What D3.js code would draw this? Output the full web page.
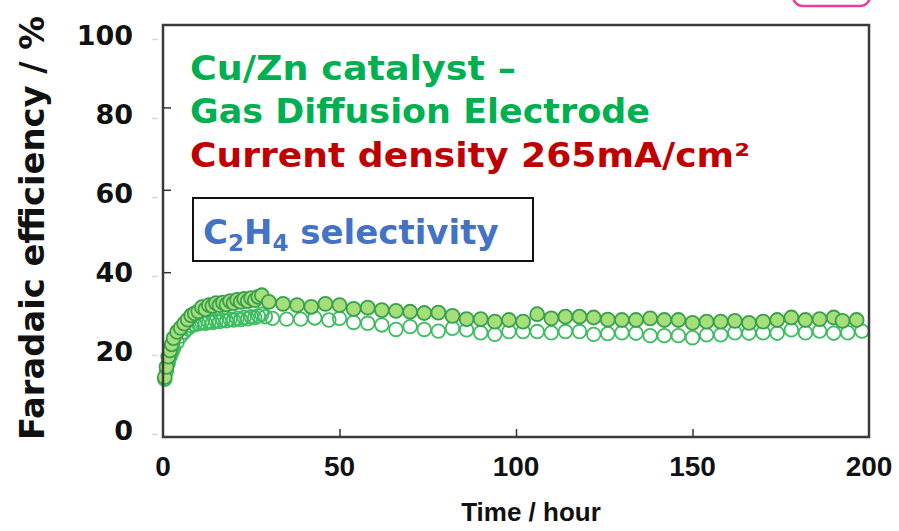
<!DOCTYPE html>
<html>
<head>
<meta charset="utf-8">
<script src="https://cdn.jsdelivr.net/npm/d3@7"></script>
<style>
  body { margin: 0; background: #fff; }
  svg { display: block; }
</style>
</head>
<body>
<div id="container"></div>
<script>
/* data: time (hour) and faradaic efficiency (%) */
var filledTime = [0.5,1,1.5,2,2.5,3,4,5,6,7,8,9,10,11,12,13,14,15,16,17,18,19,20,21,22,23,24,25,26,27,28,
  30,34,38,42,46,50,54,58,62,66,70,74,78,82,86,90,94,98,102,106,110,114,118,122,126,130,134,138,142,146,
  150,154,158,162,166,170,174,178,182,186,190,192.5,196.5]
var filledFE = [14.5,17,19.5,21,22.5,24,25.5,26.5,27.5,28.5,29.5,30,30.5,31.5,31,32,31.8,32.5,32,32.6,32.2,33,32.5,33.3,32.8,33.5,33,33.7,33.2,34,34.4,
  32.8,32.3,32.0,31.6,32.3,32.0,31.1,31.4,30.8,30.6,30.4,30.1,30.2,29.4,28.6,28.6,28.0,28.4,28.0,29.8,28.8,29.2,29.2,29.0,28.5,28.4,28.4,28.8,28.4,28.4,
  27.7,28.0,28.0,28.2,27.7,28.0,28.4,29.0,28.4,28.6,29.0,28.2,28.4]

var openTime = [0.5,1,1.5,2,2.5,3,4,5,6,7,8,9,10,11,12,13,14,15,16,17,18,19,20,21,22,23,24,25,26,27,28,29,
  31,35,39,43,47,50,54,58,62,66,70,74,78,82,86,90,94,98,102,106,110,114,118,122,126,130,134,138,142,146,
  150,154,158,162,166,170,174,178,182,186,190,194,198]
var openFE = [14,16,18,19.5,20.5,21.5,23,24.5,25.5,26.3,27,27.3,27.5,27.8,27.6,28,27.8,28.2,28,28.4,28.2,28.6,28.4,28.8,28.5,29,28.7,29.2,29,29.4,29.8,29.2,
  28.8,28.6,28.6,28.9,28.4,28.8,27.8,27.6,27.2,26.1,26.8,26.1,25.7,26.4,26.0,25.3,24.9,25.6,25.6,25.6,25.3,25.6,25.6,24.9,25.1,25.3,25.2,24.6,24.6,24.6,
  24.1,24.8,24.8,25.3,25.2,25.3,25.2,26.0,25.3,25.7,25.2,25.3,25.7]

var xTicks = [0, 50, 100, 150, 200]
var yTicks = [0, 20, 40, 60, 80, 100]

/* setup the dimensions */
var W = 899, H = 531
var plot = { left: 163, right: 869, top: 25, bottom: 437 }

var svg = d3.select("#container").append("svg")
            .attr("width", W).attr("height", H)

var x = d3.scaleLinear().domain([0, 200]).range([plot.left, plot.right])
var y = d3.scaleLinear().domain([0, 100]).range([plot.bottom, plot.top])
/* the big y labels sit on a slightly different scale in the picture */
var yLab = d3.scaleLinear().domain([0, 100]).range([434, 39])

/* pink box cut off at the top right */
svg.append("rect")
   .attr("x", 793).attr("y", -30).attr("width", 77).attr("height", 36)
   .attr("rx", 10)
   .attr("fill", "none").attr("stroke", "#ea3c9c").attr("stroke-width", 2.5)

/* outer y labels with faint gray ticks */
var yAxisOuter = svg.append("g")
   .attr("transform", "translate(158,0)")
   .call(d3.axisLeft(yLab).tickValues(yTicks).tickSize(6).tickPadding(19))
yAxisOuter.select(".domain").remove()
yAxisOuter.selectAll(".tick line").attr("stroke", "#d8d8d8").attr("stroke-width", 1.5)
yAxisOuter.selectAll(".tick text")
   .attr("dy", "0.22em")
   .attr("fill", "#111")
   .style("font-family", "DejaVu Sans, Verdana, sans-serif")
   .style("font-weight", "bold")
   .style("font-size", "27px")

/* inner ticks */
var yAxisInner = svg.append("g")
   .attr("transform", "translate(" + plot.left + ",0)")
   .call(d3.axisRight(y).tickValues([20, 40, 60, 80]).tickSize(8).tickFormat(""))
yAxisInner.select(".domain").remove()
yAxisInner.selectAll(".tick line").attr("stroke", "#333").attr("stroke-width", 1.5)

var xAxis = svg.append("g")
   .attr("transform", "translate(0," + plot.bottom + ")")
   .call(d3.axisTop(x).tickValues(xTicks).tickSize(8).tickFormat(""))
xAxis.select(".domain").remove()
xAxis.selectAll(".tick line").attr("stroke", "#333").attr("stroke-width", 1.5)
xAxis.selectAll(".tick").filter(function(d) { return d == 0 || d == 200 }).remove()

/* x labels */
svg.append("g").selectAll("text")
   .data(xTicks)
   .enter().append("text")
     .attr("x", function(d) { return x(d) })
     .attr("y", 476)
     .attr("text-anchor", "middle")
     .attr("fill", "#111")
     .style("font-family", "Liberation Sans Narrow, Liberation Sans, Arial, sans-serif")
     .style("font-weight", "bold")
     .style("font-size", "28px")
     .text(function(d) { return d })

svg.append("text")
   .attr("x", 531).attr("y", 521)
   .attr("text-anchor", "middle")
   .attr("fill", "#111")
   .style("font-family", "Liberation Sans Narrow, Liberation Sans, Arial, sans-serif")
   .style("font-weight", "bold")
   .style("font-size", "26px")
   .text("Time / hour")

svg.append("text")
   .attr("transform", "translate(44,228) rotate(-90)")
   .attr("text-anchor", "middle")
   .attr("fill", "#111")
   .style("font-family", "DejaVu Sans, Verdana, sans-serif")
   .style("font-size", "33px")
   .style("font-weight", "bold")
   .attr("textLength", 424)
   .attr("lengthAdjust", "spacingAndGlyphs")
   .text("Faradaic efficiency / %")

/* data points */
var open = openTime.map(function(t, i) { return [t, openFE[i]] })
var filled = filledTime.map(function(t, i) { return [t, filledFE[i]] })

svg.append("g").selectAll("circle")
   .data(open)
   .enter().append("circle")
     .attr("cx", function(d) { return x(d[0]) })
     .attr("cy", function(d) { return y(d[1]) })
     .attr("r", 6.8)
     .attr("fill", "none")
     .attr("stroke", "#3cbd5f")
     .attr("stroke-width", 1.8)

svg.append("g").selectAll("circle")
   .data(filled)
   .enter().append("circle")
     .attr("cx", function(d) { return x(d[0]) })
     .attr("cy", function(d) { return y(d[1]) })
     .attr("r", 7)
     .attr("fill", "#a6de7a")
     .attr("stroke", "#37a04c")
     .attr("stroke-width", 1.8)

/* plot frame */
svg.append("rect")
   .attr("x", plot.left).attr("y", plot.top)
   .attr("width", plot.right - plot.left).attr("height", plot.bottom - plot.top)
   .attr("fill", "none").attr("stroke", "#3a3a3a").attr("stroke-width", 2.5)

/* annotations */
var note = svg.append("g")
   .style("font-family", "DejaVu Sans, Verdana, sans-serif")
   .style("font-weight", "bold")
   .style("font-size", "33px")

note.append("text").attr("x", 190).attr("y", 80).attr("fill", "#00b050")
    .attr("textLength", 326).attr("lengthAdjust", "spacingAndGlyphs").text("Cu/Zn catalyst \u2013")
note.append("text").attr("x", 190).attr("y", 123).attr("fill", "#00b050")
    .attr("textLength", 460).attr("lengthAdjust", "spacingAndGlyphs").text("Gas Diffusion Electrode")
note.append("text").attr("x", 190).attr("y", 167).attr("fill", "#c00000")
    .attr("textLength", 560).attr("lengthAdjust", "spacingAndGlyphs").text("Current density 265mA/cm\u00b2")

svg.append("rect")
   .attr("x", 193).attr("y", 198).attr("width", 340).attr("height", 63)
   .attr("fill", "#fff").attr("stroke", "#111").attr("stroke-width", 2)

var sel = svg.append("text")
   .attr("x", 203).attr("y", 244)
   .attr("fill", "#4472c4")
   .style("font-family", "DejaVu Sans, Verdana, sans-serif")
   .style("font-weight", "bold")
   .style("font-size", "34px")
sel.append("tspan").text("C")
sel.append("tspan").attr("dy", 7).style("font-size", "23px").text("2")
sel.append("tspan").attr("dy", -7).text("H")
sel.append("tspan").attr("dy", 7).style("font-size", "23px").text("4")
sel.append("tspan").attr("dy", -7).text(" selectivity")
</script>
</body>
</html>
